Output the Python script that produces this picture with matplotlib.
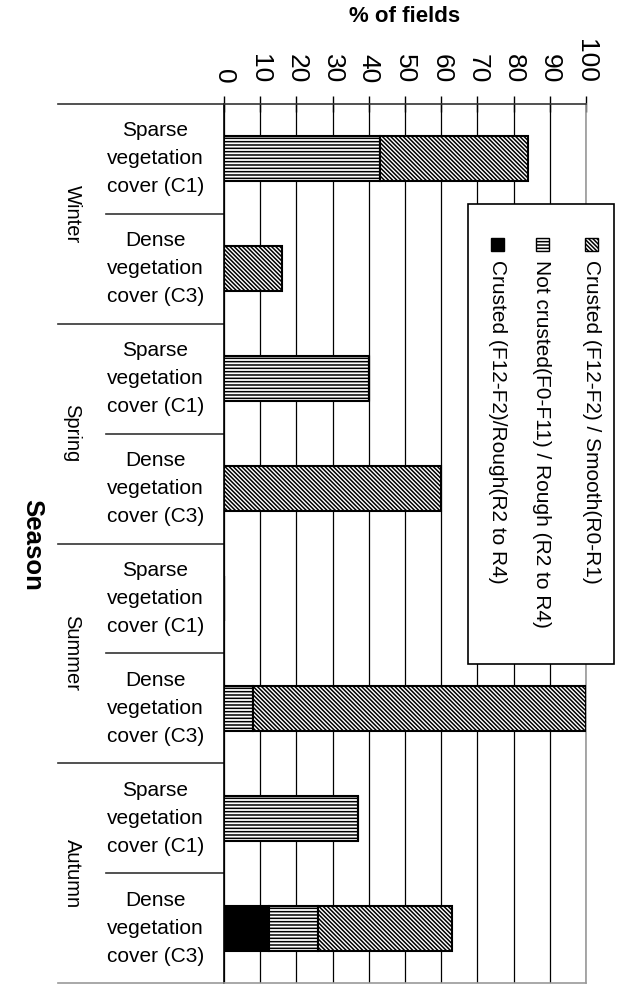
import numpy as np
import matplotlib
matplotlib.use('Agg')
import matplotlib.pyplot as plt
from matplotlib.patches import Rectangle
import matplotlib.transforms as mtransforms

plt.rcParams['font.family'] = ['Liberation Sans', 'DejaVu Sans']
plt.rcParams['hatch.linewidth'] = 1.1

seasons = ['Winter', 'Spring', 'Summer', 'Autumn']
covers = ['Sparse\nvegetation\ncover (C1)', 'Dense\nvegetation\ncover (C3)']
categories = [c for s in seasons for c in covers]

# % of fields per category, stacked left to right
crusted_rough = [0, 0, 0, 0, 0, 0, 0, 12.5]
not_crusted = [43, 0, 40, 0, 0, 8, 37, 13.5]
crusted_smooth = [41, 16, 0, 60, 0, 92, 0, 37]

series_labels = ['Crusted (F12-F2)/Rough(R2 to R4)',
                 'Not crusted(F0-F11) / Rough (R2 to R4)',
                 'Crusted (F12-F2) / Smooth(R0-R1)']
series_hatch = ['', '-----', '\\' * 8]
series_face = ['black', 'white', 'white']

W, H = 619, 984
fig = plt.figure(figsize=(W / 100, H / 100), dpi=100)
ax = fig.add_axes([224 / W, 1 - 983 / H, 362 / W, 879 / H])

y = np.arange(len(categories))
left = np.zeros(len(categories))
for vals, hatch, face in zip([crusted_rough, not_crusted, crusted_smooth], series_hatch, series_face):
    vals = np.array(vals, dtype=float)
    ax.barh(y, vals, left=left, height=0.41, color=face, hatch=hatch,
            edgecolor='black', linewidth=1.5, zorder=3)
    left += vals

ax.set_xlim(0, 100)
ax.set_ylim(len(categories) - 0.5, -0.5)
ax.set_xticks(np.arange(0, 101, 10))
ax.xaxis.tick_top()
ax.tick_params(axis='x', direction='inout', length=12, width=1, pad=9, labelsize=19)
for lab in ax.get_xticklabels():
    lab.set_rotation(-90)
    lab.set_va('bottom')
    lab.set_ha('center')
ax.set_yticks([])
ax.set_axisbelow(True)
ax.xaxis.grid(True, color='black', linewidth=0.9)
ax.spines['top'].set_color('#333333')
ax.spines['left'].set_color('black')
ax.spines['right'].set_color('#999999')
ax.spines['bottom'].set_color('#999999')
for sp in ax.spines.values():
    sp.set_linewidth(1.2)

trans = mtransforms.blended_transform_factory(ax.transAxes, ax.transData)
for i, lab in enumerate(categories):
    ax.text(-0.19, i, lab, transform=trans, ha='center', va='center',
            multialignment='center', fontsize=15, linespacing=1.6)

# separators on the category axis
for k in range(len(categories) + 1):
    yy = k - 0.5
    if k % 2 == 0:
        x0 = (58 - 224) / 362
    else:
        x0 = (106 - 224) / 362
    col = '#999999' if k == len(categories) else '#333333'
    ax.plot([x0, 0], [yy, yy], transform=trans, color=col, lw=1.2, clip_on=False)

for j, s in enumerate(seasons):
    ax.text((72 - 224) / 362, 2 * j + 0.5, s, transform=trans, rotation=-90,
            ha='center', va='center', fontsize=14.5)

fig.text(405 / W, 1 - 16 / H, '% of fields', ha='center', va='center',
         fontsize=16, fontweight='bold')
fig.text(32 / W, 1 - 545 / H, 'Season', ha='center', va='center',
         rotation=-90, fontsize=18.5, fontweight='bold')

# legend box (rotated with the chart)
fig.add_artist(Rectangle((468 / W, 1 - 664 / H), (614 - 468) / W, (664 - 204) / H,
                         transform=fig.transFigure, facecolor='white',
                         edgecolor='black', linewidth=1.2, zorder=5))
leg_x = [497, 542, 591]
for xx, lab, hatch, face in zip(leg_x, series_labels, series_hatch, series_face):
    fig.add_artist(Rectangle(((xx - 6.5) / W, 1 - 250.5 / H), 13 / W, 13 / H,
                             transform=fig.transFigure, facecolor=face, hatch=hatch,
                             edgecolor='black', linewidth=1, zorder=6))
    fig.text(xx / W, 1 - 260 / H, lab, ha='center', va='top', rotation=-90,
             fontsize=15, zorder=6)

fig.savefig('out.png', dpi=100)
